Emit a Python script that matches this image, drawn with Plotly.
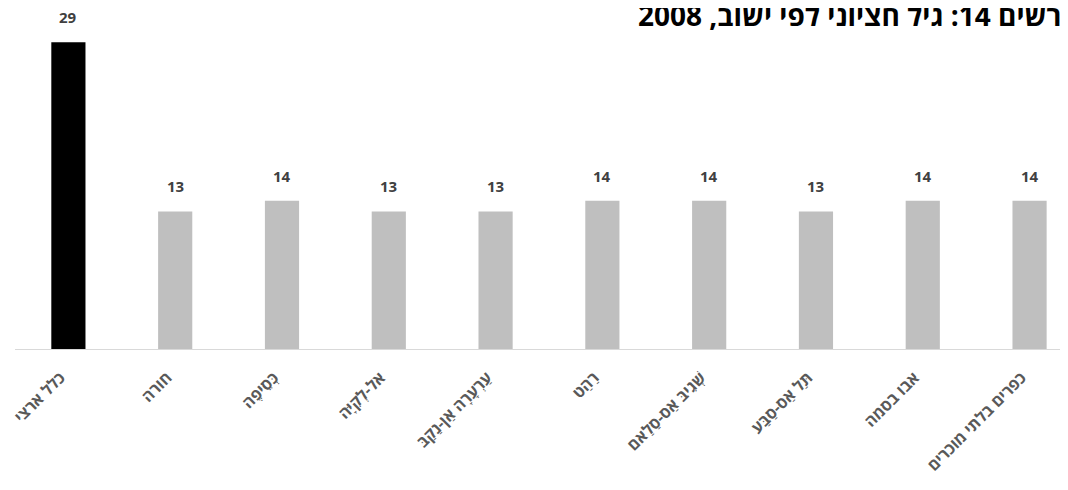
import plotly.graph_objects as go

categories = ["כלל ארצי", "חורה", "כְּסֵיפֶה", "אל-לְקִיָּה", "עַרְעָרָה אַן-נַקַבּ",
              "רַהַט", "שְׁגִיבּ אַס-סַלַאם", "תַּל אַס-סַבַּע", "אבו בסמה", "כפרים בלתי מוכרים"]
values = [29, 13, 14, 13, 13, 14, 14, 13, 14, 14]
title_text = "תרשים 14: גיל חציוני לפי ישוב, 2008"

colors = ["#000000"] + ["#bfbfbf"] * (len(values) - 1)

fig = go.Figure(go.Bar(
    x=categories, y=values,
    marker=dict(color=colors, line=dict(width=0)),
    cliponaxis=False,
))

annotations = [dict(
    x=c, y=v, xref="x", yref="y", text=f"<b>{v}</b>", showarrow=False,
    yanchor="bottom", yshift=13,
    font=dict(family="Open Sans, Liberation Sans", size=15, color="#404040"),
) for c, v in zip(categories, values)]

annotations.append(dict(
    text=f"<b>{title_text}</b>",
    xref="paper", yref="paper", x=(1075 - 7) / 1053, y=1, yshift=6,
    xanchor="right", yanchor="middle", showarrow=False,
    font=dict(family="Open Sans, Liberation Sans", size=28, color="#000000"),
))

fig.update_layout(
    width=1060, height=482,
    margin=dict(l=7, r=0, t=13, b=141),
    paper_bgcolor="white", plot_bgcolor="white",
    bargap=0.68,
    showlegend=False,
    xaxis=dict(
        type="category",
        range=[-0.5, 9.36],
        automargin=False,
        tickangle=-45,
        tickfont=dict(family="Open Sans, Liberation Sans", size=16, color="#595959"),
        tickvals=categories,
        ticktext=[f"<b>{c}</b>" for c in categories],
        ticklabelstandoff=12,
        ticklabelshift=-8,
        showline=True, linecolor="#d9d9d9", linewidth=1,
        ticks="", showgrid=False,
    ),
    yaxis=dict(range=[0, 31], visible=False, showgrid=False, automargin=False),
    annotations=annotations,
)

fig.write_html("out.html")
